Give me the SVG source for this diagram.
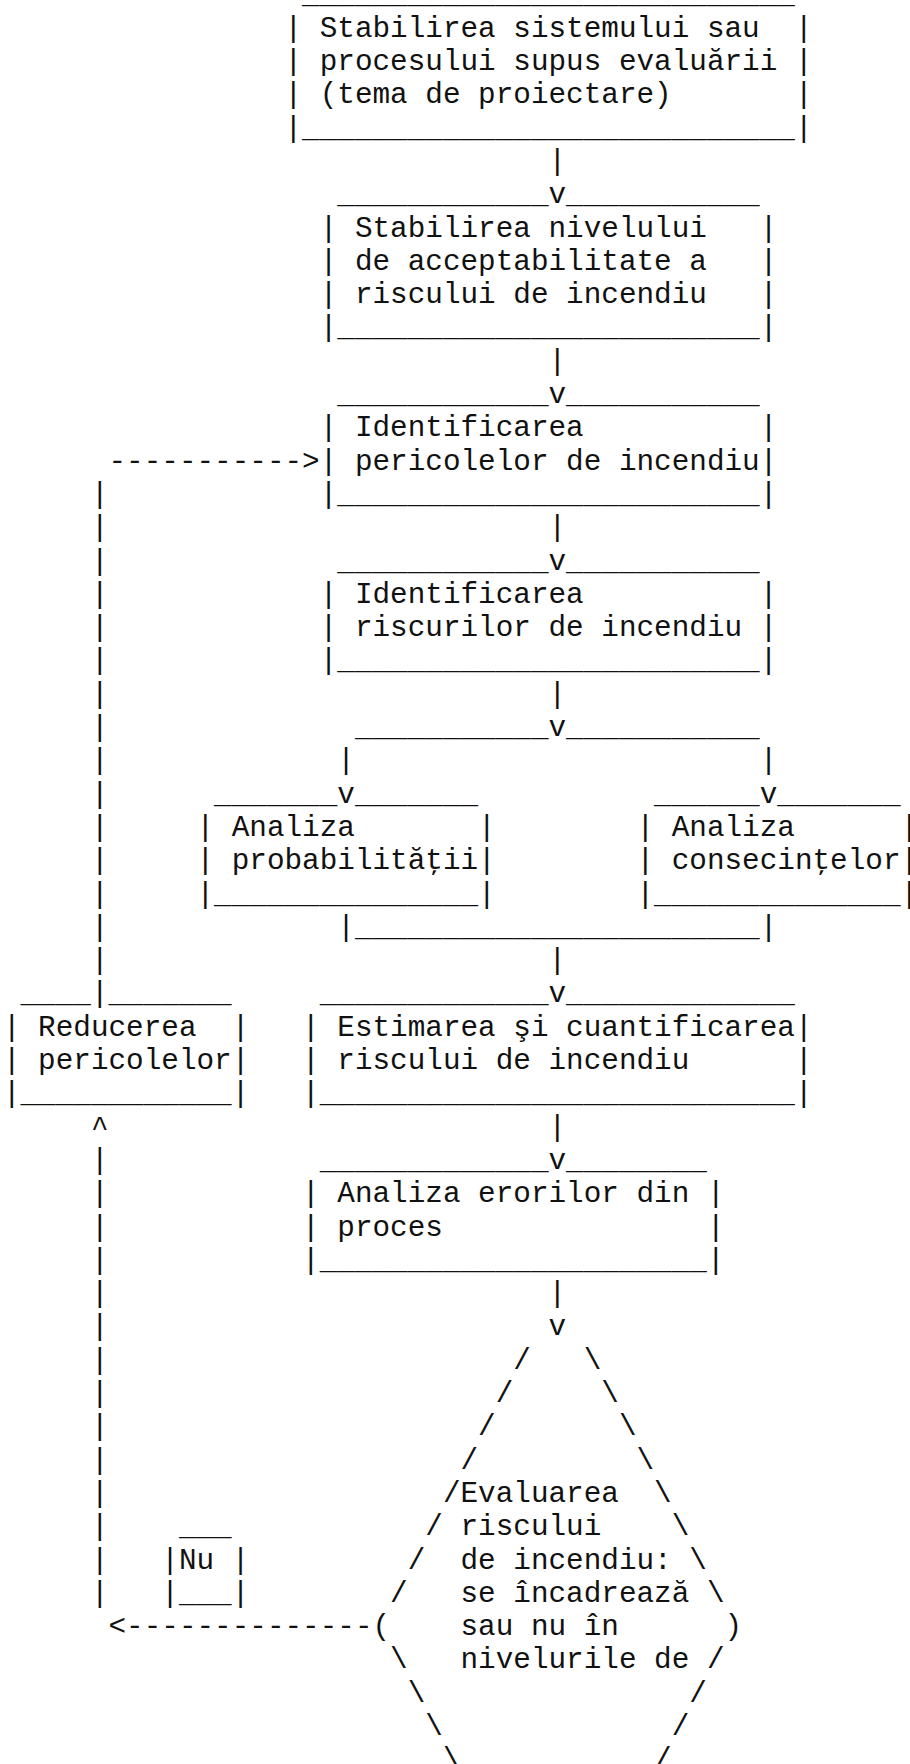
<svg xmlns="http://www.w3.org/2000/svg" width="910" height="1764" viewBox="0 0 910 1764">
<style>
text{font-family:"Liberation Mono","Courier New",monospace;font-size:29.33px;fill:#111;white-space:pre}
</style>
<rect x="0" y="0" width="910" height="1764" fill="#fff"/>
<g id="n1">
<text x="302.1" y="3.4">____________________________</text>
<text x="284.5" y="36.7">|</text><text x="319.7" y="36.7">Stabilirea sistemului sau</text><text x="794.9" y="36.7">|</text>
<text x="284.5" y="70">|</text><text x="319.7" y="70">procesului supus evaluării</text><text x="794.9" y="70">|</text>
<text x="284.5" y="103.3">|</text><text x="319.7" y="103.3">(tema de proiectare)</text><text x="794.9" y="103.3">|</text>
<text x="284.5" y="136.6">|____________________________|</text>
</g>
<g id="n2">
<text x="337.3" y="203.2">____________</text><text x="566.1" y="203.2">___________</text>
<text x="319.7" y="236.5">|</text><text x="354.9" y="236.5">Stabilirea nivelului</text><text x="759.7" y="236.5">|</text>
<text x="319.7" y="269.8">|</text><text x="354.9" y="269.8">de acceptabilitate a</text><text x="759.7" y="269.8">|</text>
<text x="319.7" y="303.1">|</text><text x="354.9" y="303.1">riscului de incendiu</text><text x="759.7" y="303.1">|</text>
<text x="319.7" y="336.4">|________________________|</text>
</g>
<g id="n3">
<text x="337.3" y="403">____________</text><text x="566.1" y="403">___________</text>
<text x="319.7" y="436.3">|</text><text x="354.9" y="436.3">Identificarea</text><text x="759.7" y="436.3">|</text>
<text x="319.7" y="469.6">|</text><text x="354.9" y="469.6">pericolelor de incendiu</text><text x="759.7" y="469.6">|</text>
<text x="319.7" y="502.9">|________________________|</text>
</g>
<g id="n4">
<text x="337.3" y="569.5">____________</text><text x="566.1" y="569.5">___________</text>
<text x="319.7" y="602.8">|</text><text x="354.9" y="602.8">Identificarea</text><text x="759.7" y="602.8">|</text>
<text x="319.7" y="636.1">|</text><text x="354.9" y="636.1">riscurilor de incendiu</text><text x="759.7" y="636.1">|</text>
<text x="319.7" y="669.4">|________________________|</text>
</g>
<g id="n5">
<text x="214.1" y="802.6">_______</text><text x="354.9" y="802.6">_______</text>
<text x="196.5" y="835.9">|</text><text x="231.7" y="835.9">Analiza</text><text x="478.1" y="835.9">|</text>
<text x="196.5" y="869.2">|</text><text x="231.7" y="869.2">probabilităţii</text><text x="478.1" y="869.2">|</text>
<text x="196.5" y="902.5">|_______________|</text>
</g>
<g id="n6">
<text x="654.1" y="802.6">______</text><text x="777.3" y="802.6">_______</text>
<text x="636.5" y="835.9">|</text><text x="671.7" y="835.9">Analiza</text><text x="900.5" y="835.9">|</text>
<text x="636.5" y="869.2">|</text><text x="671.7" y="869.2">consecinţelor</text><text x="900.5" y="869.2">|</text>
<text x="636.5" y="902.5">|______________|</text>
</g>
<g id="n7">
<text x="319.7" y="1002.4">_____________</text><text x="566.1" y="1002.4">_____________</text>
<text x="302.1" y="1035.7">|</text><text x="337.3" y="1035.7">Estimarea şi cuantificarea</text><text x="794.9" y="1035.7">|</text>
<text x="302.1" y="1069">|</text><text x="337.3" y="1069">riscului de incendiu</text><text x="794.9" y="1069">|</text>
<text x="302.1" y="1102.3">|___________________________|</text>
</g>
<g id="n8">
<text x="20.5" y="1002.4">____</text><text x="108.5" y="1002.4">_______</text>
<text x="2.9" y="1035.7">|</text><text x="38.1" y="1035.7">Reducerea</text><text x="231.7" y="1035.7">|</text>
<text x="2.9" y="1069">|</text><text x="38.1" y="1069">pericolelor</text><text x="231.7" y="1069">|</text>
<text x="2.9" y="1102.3">|____________|</text>
</g>
<g id="n9">
<text x="319.7" y="1168.9">_____________</text><text x="566.1" y="1168.9">________</text>
<text x="302.1" y="1202.2">|</text><text x="337.3" y="1202.2">Analiza erorilor din</text><text x="706.9" y="1202.2">|</text>
<text x="302.1" y="1235.5">|</text><text x="337.3" y="1235.5">proces</text><text x="706.9" y="1235.5">|</text>
<text x="302.1" y="1268.8">|______________________|</text>
</g>
<g id="n10">
<text x="513.3" y="1368.7">/</text><text x="583.7" y="1368.7">\</text>
<text x="495.7" y="1402">/</text><text x="601.3" y="1402">\</text>
<text x="478.1" y="1435.3">/</text><text x="618.9" y="1435.3">\</text>
<text x="460.5" y="1468.6">/</text><text x="636.5" y="1468.6">\</text>
<text x="442.9" y="1501.9">/</text><text x="460.5" y="1501.9">Evaluarea</text><text x="654.1" y="1501.9">\</text>
<text x="425.3" y="1535.2">/</text><text x="460.5" y="1535.2">riscului</text><text x="671.7" y="1535.2">\</text>
<text x="407.7" y="1568.5">/</text><text x="460.5" y="1568.5">de incendiu:</text><text x="689.3" y="1568.5">\</text>
<text x="390.1" y="1601.8">/</text><text x="460.5" y="1601.8">se încadrează</text><text x="706.9" y="1601.8">\</text>
<text x="372.5" y="1635.1">(</text><text x="460.5" y="1635.1">sau nu în</text><text x="724.5" y="1635.1">)</text>
<text x="390.1" y="1668.4">\</text><text x="460.5" y="1668.4">nivelurile de</text><text x="706.9" y="1668.4">/</text>
<text x="407.7" y="1701.7">\</text><text x="689.3" y="1701.7">/</text>
<text x="425.3" y="1735">\</text><text x="671.7" y="1735">/</text>
<text x="442.9" y="1768.3">\</text><text x="654.1" y="1768.3">/</text>
</g>
<g id="n11">
<text x="178.9" y="1535.2">___</text>
<text x="161.3" y="1568.5">|</text><text x="178.9" y="1568.5">Nu</text><text x="231.7" y="1568.5">|</text>
<text x="161.3" y="1601.8">|___|</text>
</g>
<g id="connectors">
<text x="548.5" y="169.9">|</text><text x="548.5" y="203.2">v</text>
<text x="548.5" y="369.7">|</text><text x="548.5" y="403">v</text>
<text x="548.5" y="536.2">|</text><text x="548.5" y="569.5">v</text>
<text x="548.5" y="702.7">|</text><text x="548.5" y="736">v</text>
<text x="354.9" y="736">___________</text><text x="566.1" y="736">___________</text>
<text x="337.3" y="769.3">|</text><text x="759.7" y="769.3">|</text>
<text x="337.3" y="802.6">v</text><text x="759.7" y="802.6">v</text>
<text x="337.3" y="935.8">|_______________________|</text>
<text x="548.5" y="969.1">|</text><text x="548.5" y="1002.4">v</text>
<text x="548.5" y="1135.6">|</text><text x="548.5" y="1168.9">v</text>
<text x="548.5" y="1302.1">|</text><text x="548.5" y="1335.4">v</text>
<text x="108.5" y="469.6">-----------&gt;</text>
<text x="90.9" y="502.9">|</text><text x="90.9" y="536.2">|</text><text x="90.9" y="569.5">|</text><text x="90.9" y="602.8">|</text><text x="90.9" y="636.1">|</text><text x="90.9" y="669.4">|</text><text x="90.9" y="702.7">|</text><text x="90.9" y="736">|</text><text x="90.9" y="769.3">|</text><text x="90.9" y="802.6">|</text><text x="90.9" y="835.9">|</text><text x="90.9" y="869.2">|</text><text x="90.9" y="902.5">|</text><text x="90.9" y="935.8">|</text><text x="90.9" y="969.1">|</text><text x="90.9" y="1002.4">|</text>
<text x="90.9" y="1135.6">^</text>
<text x="90.9" y="1168.9">|</text><text x="90.9" y="1202.2">|</text><text x="90.9" y="1235.5">|</text><text x="90.9" y="1268.8">|</text><text x="90.9" y="1302.1">|</text><text x="90.9" y="1335.4">|</text><text x="90.9" y="1368.7">|</text><text x="90.9" y="1402">|</text><text x="90.9" y="1435.3">|</text><text x="90.9" y="1468.6">|</text><text x="90.9" y="1501.9">|</text><text x="90.9" y="1535.2">|</text><text x="90.9" y="1568.5">|</text><text x="90.9" y="1601.8">|</text>
<text x="108.5" y="1635.1">&lt;--------------</text>
</g>
</svg>
